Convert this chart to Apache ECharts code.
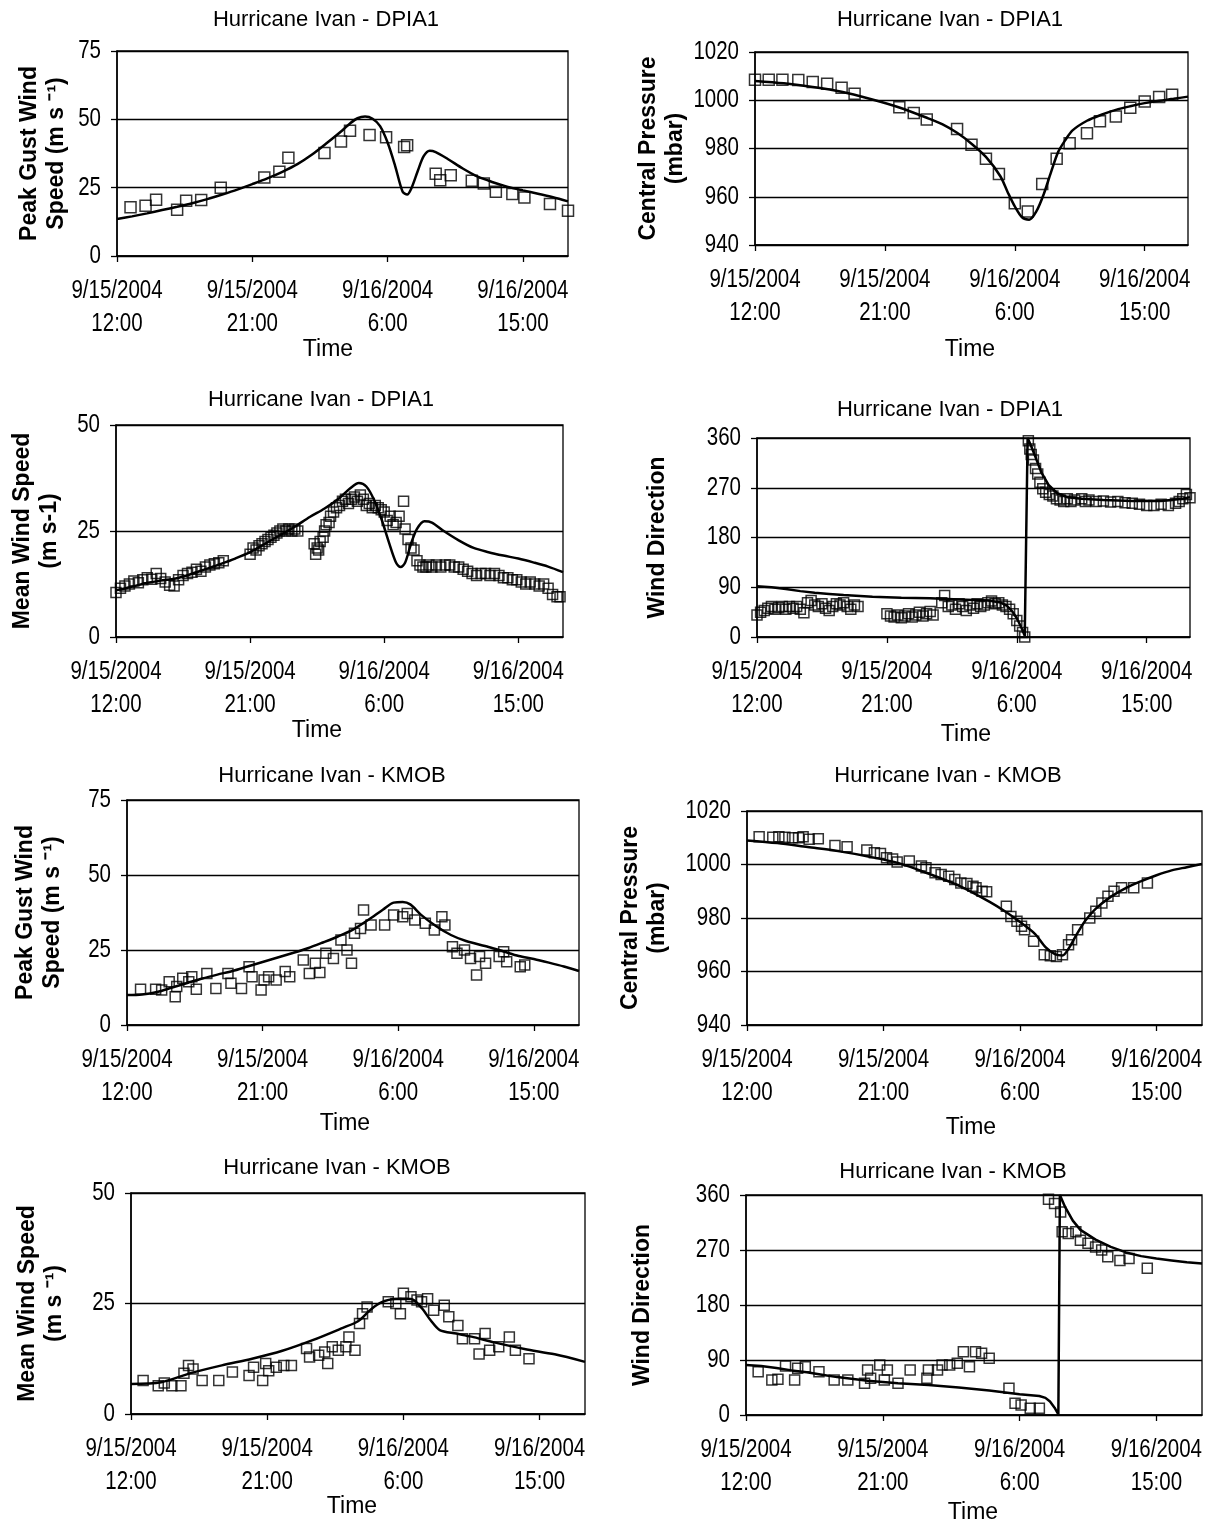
<!DOCTYPE html>
<html><head><meta charset="utf-8">
<script src="https://cdn.jsdelivr.net/npm/echarts/dist/echarts.min.js"></script>
<style>html,body{margin:0;padding:0;background:#fff}#c{width:1214px;height:1528px}</style>
</head><body><div id="c"></div>
<script>
// ---- tick labels (hours after 9/15/2004 12:00) ----
const xTickHours = [0, 9, 18, 27];
const xTickDates = ['9/15/2004', '9/15/2004', '9/16/2004', '9/16/2004'];
const xTickTimes = ['12:00', '21:00', '6:00', '15:00'];

// ---- DPIA1 peak gust ----
const p1Model = [[0,13.5],[1,14.5],[2,15.6],[3,16.8],[4,18],[5,19.3],[6,20.8],[7,22.5],[8,24.3],[9,26.3],[10,28.4],[11,30.8],[12,33.6],[13,37.2],[14,41.5],[15,46],[15.5,48.5],[16,50.4],[16.5,51],[17,50.2],[17.5,47.5],[18,41.5],[18.5,33],[19,23.5],[19.3,22.5],[19.6,25],[20,31],[20.4,36.5],[20.8,38.5],[21.2,38],[22,35.5],[23,32],[24,29],[25,27],[26,25.3],[27,24],[28,22.8],[29,21.5],[30,20]];
const p1Obs = [[0.9,17.8],[1.9,18.4],[2.6,20.6],[4.0,16.9],[4.6,20.2],[5.6,20.5],[6.9,25],[9.8,28.7],[10.8,30.8],[11.4,35.9],[13.8,37.7],[14.9,41.9],[15.5,45.8],[16.8,44.3],[17.9,43.4],[19.1,39.9],[19.3,40.5],[21.2,30.1],[21.5,27.7],[22.2,29.5],[23.6,27.5],[24.4,26.5],[25.2,23.5],[26.3,22.7],[27.1,21.4],[28.8,19],[30.0,16.6]];

// ---- DPIA1 central pressure ----
const p2Model = [[0,1008],[2,1007],[4,1005.5],[6,1003.5],[8,1000.5],[10,997],[12,992.5],[13,990],[14,986.5],[15,982],[16,976.5],[17,968.5],[17.5,962],[18,956],[18.5,951.5],[19,950.5],[19.5,954],[20,961],[20.5,970],[21,978.5],[21.5,983.5],[22,987.5],[23,991.5],[24,994],[25,996],[26,997.5],[27,998.8],[28,999.8],[29,1000.6],[30,1001.5]];
const p2Obs = [[0,1008.5],[0.95,1008.5],[1.9,1008.5],[3.0,1008.4],[4.0,1007.6],[5.0,1006.8],[6.0,1005.2],[6.9,1002.7],[10.0,997.1],[11.0,994.7],[11.9,992],[14.0,988.1],[15.0,981.6],[16.0,975.7],[16.9,969.4],[18.0,957.3],[18.9,953.9],[19.9,965.3],[20.9,975.7],[21.8,982.2],[23.0,986.3],[23.9,991.3],[25.0,993.3],[26.0,996.9],[27.0,999.5],[28.0,1001.3],[28.9,1002.3]];

// ---- DPIA1 mean wind speed ----
const p3Model = [[0,11],[1,11.8],[2,12.7],[3,13.3],[4,13.8],[5,14.8],[6,16],[7,17.2],[8,18.5],[9,20],[10,22],[11,24],[12,26],[13,28.3],[14,30.3],[15,32.8],[15.7,35],[16.3,36.3],[16.8,35.5],[17.3,32.5],[17.8,28],[18.3,22.5],[18.8,17.5],[19.1,16.5],[19.4,17.5],[19.8,22],[20.2,25.5],[20.7,27.3],[21.2,27],[22,25],[23,22.8],[24,21],[25,20],[26,19.2],[27,18.5],[28,17.6],[29,16.6],[30,15.3]];
const p3Obs = [[0,10.5],[0.3,11.5],[0.6,12],[0.9,12.5],[1.2,13.2],[1.5,12.8],[1.8,13.5],[2.1,14],[2.4,13.6],[2.7,15],[3,13.8],[3.3,13],[3.6,12.2],[3.9,12],[4.2,13.5],[4.5,14.5],[4.8,15],[5.1,15.3],[5.4,16],[5.7,15.5],[6,16.5],[6.3,17],[6.6,17.3],[6.9,17.5],[7.2,18],
[9,19.5],[9.2,21],[9.4,20.5],[9.6,21.5],[9.8,22],[10,22.5],[10.2,23],[10.4,23.5],[10.6,24],[10.8,24.5],[11,25],[11.2,25.5],[11.4,25],[11.6,25.5],[11.8,25],[12,25.5],[12.2,25],
[13.3,22],[13.4,19.5],[13.5,21],[13.6,20.5],[13.7,22.5],[13.9,23.5],[14,25],[14.1,26.5],[14.3,27],[14.4,28.5],[14.6,29.5],[14.8,30.5],[15,31],[15.2,32],[15.4,32.5],[15.6,31.5],[15.8,32.5],[16,33],[16.2,32],[16.4,33.5],[16.6,32.5],[16.8,31],[17,31.5],[17.2,30.5],[17.4,31],[17.6,30.5],[17.8,30],[18,29.5],[18.2,27.5],[18.4,28.5],[18.6,26.5],[18.8,27],[19,28.5],[19.3,32],[19.4,25.5],[19.6,23],[19.8,21],[20,20.5],[20.2,18],[20.4,17],[20.6,16.5],[20.8,16.5],[21,17],[21.2,16.5],[21.5,17],[21.8,16.5],[22.1,17],[22.4,17],[22.7,16.5],[23,16.5],[23.3,16],[23.6,15.5],[23.9,15],[24.2,14.5],[24.5,15],[24.8,15],[25.1,14.5],[25.4,15],[25.7,14.5],[26,14],[26.3,14],[26.6,13.5],[26.9,13.5],[27.2,13],[27.5,12.5],[27.8,13],[28.1,12.5],[28.4,12],[28.7,12.5],[29,11.5],[29.3,10],[29.6,9.5],[29.8,9.5]];

// ---- DPIA1 wind direction ----
const p4Model = [[0,92],[1,90],[2,87],[3,83],[4,80],[5,78],[6,76],[8,73],[10,71],[12,70],[14,68],[16,66],[16.8,63],[17.3,57],[17.7,46],[18,34],[18.3,18],[18.55,2],[18.75,360],[19,345],[19.3,325],[19.7,298],[20.2,275],[20.8,260],[21.5,253],[22.5,250],[24,248],[26,246],[28,246],[29.5,250],[30,253]];
const p4Obs = [[0,40],[0.25,45],[0.5,48],[0.75,52],[1,55],[1.25,50],[1.5,53],[1.75,55],[2,50],[2.25,55],[2.5,52],[2.75,55],[3,50],[3.25,44],[3.5,62],[3.75,66],[4,58],[4.25,55],[4.5,60],[4.75,52],[5,48],[5.25,55],[5.5,60],[5.75,58],[6,62],[6.25,55],[6.5,50],[6.75,58],[7,55],
[9,42],[9.25,38],[9.5,36],[9.75,40],[10,35],[10.25,38],[10.5,42],[10.75,36],[11,40],[11.25,45],[11.5,38],[11.75,42],[12,46],[12.2,40],
[12.8,62],[13,75],[13.25,55],[13.5,58],[13.75,50],[14,60],[14.25,55],[14.5,48],[14.75,58],[15,52],[15.25,60],[15.5,55],[15.75,58],[16,62],[16.25,65],[16.5,60],[16.75,62],[17,58],[17.25,55],
[17.5,50],[17.75,42],[18,30],[18.2,20],[18.4,8],[18.55,0],
[18.8,355],[18.9,340],[19,330],[19.15,320],[19.3,305],[19.45,295],[19.6,280],[19.8,268],[20,262],[20.25,258],[20.5,255],[20.75,250],[21,248],[21.25,245],[21.5,250],[21.75,245],[22,248],[22.5,250],[22.75,245],[23,248],[23.5,245],[24,246],[24.5,244],[25,245],[25.5,243],[26,242],[26.5,240],[27,238],[27.5,238],[28,240],[28.5,238],[29,242],[29.25,245],[29.5,250],[29.75,258],[30,252]];

// ---- KMOB peak gust ----
const p5Model = [[0,10],[1,10.2],[2,11],[3,12.5],[4,14],[5,15.5],[6,16.8],[7,18],[8,19.5],[9,21],[10,22.5],[11,24],[12,25.6],[13,27.5],[14,29.5],[15,31.8],[16,35],[17,38.5],[17.7,40.8],[18.3,41],[18.8,40.2],[19.5,36.8],[20.5,33],[21.5,30],[22.5,28],[24,26],[25,24.5],[26,23],[27,22],[28,20.8],[29,19.5],[30,18]];
const p5Obs = [[0.9,11.9],[1.9,11.9],[2.3,11.7],[2.8,14.4],[3.2,9.4],[3.3,12.8],[3.7,15.6],[4.1,14.4],[4.3,16.1],[4.6,11.9],[5.3,17.2],[5.9,12.2],[6.7,17.2],[6.9,13.9],[7.6,12.2],[8.1,19.4],[8.3,16.1],[8.9,11.7],[9.1,15],[9.4,16.1],[9.9,15],[10.5,17.8],[10.8,16.1],[11.7,21.7],[12.1,17.2],[12.5,20.6],[12.8,17.5],[13.2,23.9],[13.7,22.2],[14.2,28.3],[14.6,25],[14.9,20.6],[15.1,30.6],[15.5,32.2],[15.7,38.3],[16.2,33.3],[17.1,33.3],[17.7,36.7],[18.3,36.1],[18.6,37.2],[19.1,35],[19.8,33.9],[20.4,31.7],[20.9,36.1],[21.1,33.3],[21.6,26.1],[21.9,23.9],[22.4,25],[22.8,22.2],[23.2,16.7],[23.4,22.8],[23.8,20.6],[24.7,22.8],[25.0,24.4],[25.2,21.1],[26.1,19.4],[26.4,20]];

// ---- KMOB central pressure ----
const p6Model = [[0,1009],[2,1008],[4,1006.5],[6,1005],[8,1003],[10,1000.5],[12,996.5],[14,992],[16,986],[17,982.5],[18,978.5],[19,974],[19.7,969],[20.3,966.5],[20.8,966],[21.2,968.5],[21.7,973.5],[22.3,979],[23,983.5],[24,988],[25,991.3],[26,993.8],[27,996],[28,997.8],[29,999],[30,1000.2]];
const p6Obs = [[0.8,1010.4],[1.7,1010.2],[2.1,1010.4],[2.5,1010.2],[3.0,1010],[3.4,1010],[3.7,1010.4],[4.1,1009.4],[4.7,1009.6],[5.8,1007.1],[6.6,1006.6],[7.9,1005.4],[8.4,1004.4],[8.8,1004.1],[9.2,1002.5],[9.6,1002.1],[9.9,1000.9],[10.7,1001.3],[11.5,999.4],[11.8,998.8],[12.4,996.9],[12.8,996.3],[13.3,995.6],[13.7,994.4],[14.1,993.1],[14.5,992.9],[14.9,991.9],[15.1,991.3],[15.5,990],[15.8,989.8],[17.1,984.4],[17.4,980.6],[17.8,978.8],[18.1,976.9],[18.3,975.6],[18.9,971.3],[19.6,966.3],[20,965.9],[20.4,965.6],[20.8,966.3],[21.2,970],[21.4,971.9],[21.8,975.6],[22.6,980],[23,982.5],[23.4,985.6],[23.8,988.1],[24.2,990],[24.7,991.3],[25.5,991.3],[26.4,993.1]];

// ---- KMOB mean wind speed ----
const p7Model = [[0,6.8],[2,7.2],[4,9.3],[6,11],[8,12.5],[10,14.3],[12,16.7],[14,19.5],[15,21],[15.8,23.5],[16.5,25.2],[17.5,26],[18.5,26],[19.2,24],[19.8,21.2],[20.4,19],[21.5,18.2],[22.5,17.5],[24,16.2],[26,14.7],[28,13.5],[30,11.8]];
const p7Obs = [[0.8,7.6],[1.8,6.4],[2.2,7],[2.7,6.4],[3.3,6.4],[3.5,9.2],[3.8,11],[4.1,10.2],[4.7,7.6],[5.8,7.6],[6.7,9.5],[7.8,8.7],[8.1,10.6],[8.7,7.6],[8.9,11.4],[9.1,9.8],[9.6,10.6],[10.1,11],[10.6,11],[11.6,14.8],[11.8,12.9],[12.4,13.3],[12.8,14],[13,11.4],[13.3,15.2],[13.7,14.4],[14.2,15.2],[14.4,17.4],[14.8,14.4],[15.1,20.5],[15.3,22.7],[15.6,24.2],[17,25.4],[17.5,25],[17.8,22.7],[18,27.3],[18.5,26.5],[18.9,25.8],[19.2,25.4],[19.6,26.1],[20,23.5],[20.7,24.6],[21,22],[21.6,20],[21.9,17],[22.7,17],[23,13.6],[23.4,18.2],[23.7,14.4],[24.3,15.2],[25,17.4],[25.4,14.4],[26.3,12.5]];

// ---- KMOB wind direction ----
const p8Model = [[0,82],[1,80],[2,77],[3,73],[4,70],[5,66],[6,62],[8,56],[10,52],[12,49],[14,45],[16,40],[18,34],[19.3,31],[19.7,28],[20,22],[20.3,12],[20.55,1],[20.65,360],[21,340],[21.5,318],[22,303],[23,287],[24,275],[25,266],[26,260],[27,256],[28,253],[29,250],[30,248]];
const p8Obs = [[0.8,70.9],[1.7,57.3],[2.1,58.4],[2.6,80.2],[3.2,57.3],[3.4,76.4],[3.9,79.1],[4.8,70.9],[5.8,57.3],[6.7,57.3],[7.8,51.8],[8.0,73.6],[8.2,60],[8.8,81.8],[9.1,57.3],[9.3,73.6],[10,51.8],[10.8,73.6],[11.9,60],[12,73.6],[12.6,73.6],[12.9,81.8],[13.4,81.8],[13.9,84.5],[14.3,103.6],[14.7,79.1],[15.1,103.6],[15.5,100.9],[16,92.7],[17.3,43.6],[17.7,19.1],[18.1,16.4],[18.7,10.9],[19.3,10.9],[19.9,353],[20.3,346],[20.7,332],[20.8,300],[21.2,297],[21.7,300],[22,286],[22.5,281],[23,275],[23.4,270],[23.8,259],[24.6,253],[25.2,256],[26.4,240]];

// ---- narrow-font emulation: text in the "NarrowX" family is drawn with Liberation Sans compressed horizontally ----
(function () {
  const P = CanvasRenderingContext2D.prototype;
  const SX = 0.82;
  const oFill = P.fillText, oMeasure = P.measureText;
  P.fillText = function (t, x, y, mw) {
    if (this.font.indexOf('NarrowX') >= 0) {
      this.save(); this.translate(x, y); this.scale(SX, 1);
      oFill.call(this, t, 0, 0); this.restore(); return;
    }
    return oFill.apply(this, arguments);
  };
  P.measureText = function (t) {
    const m = oMeasure.call(this, t);
    if (this.font.indexOf('NarrowX') >= 0) {
      return {width: m.width * SX,
        actualBoundingBoxAscent: m.actualBoundingBoxAscent, actualBoundingBoxDescent: m.actualBoundingBoxDescent,
        actualBoundingBoxLeft: m.actualBoundingBoxLeft * SX, actualBoundingBoxRight: m.actualBoundingBoxRight * SX,
        fontBoundingBoxAscent: m.fontBoundingBoxAscent, fontBoundingBoxDescent: m.fontBoundingBoxDescent};
    }
    return m;
  };
})();

// ---- layout ----
const NARROW = "NarrowX,'Liberation Sans',Arial,sans-serif";
const SANS = "'Liberation Sans',Arial,sans-serif";
const panels = [
  {g:{left:117,top:51,width:451,height:205}, yMin:0,yMax:75,yInt:25, yName:'Peak Gust Wind\nSpeed (m s \u207B\u00B9)', gap:47, title:'Hurricane Ivan - DPIA1', tx:326, ty:20, timeX:328, timeY:350, model:p1Model, obs:p1Obs, smooth:0.3, sym:11},
  {g:{left:755,top:52,width:433,height:193}, yMin:940,yMax:1020,yInt:20, yName:'Central Pressure\n(mbar)', gap:36, title:'Hurricane Ivan - DPIA1', tx:950, ty:20, timeX:970, timeY:350, model:p2Model, obs:p2Obs, smooth:0.3, sym:11},
  {g:{left:116,top:425,width:447,height:212}, yMin:0,yMax:50,yInt:25, yName:'Mean Wind Speed\n(m s-1)', gap:53, title:'Hurricane Ivan - DPIA1', tx:321, ty:400, timeX:317, timeY:731, model:p3Model, obs:p3Obs, smooth:0.3, sym:10},
  {g:{left:757,top:438,width:433,height:199}, yMin:0,yMax:360,yInt:90, yName:'Wind Direction', gap:86, title:'Hurricane Ivan - DPIA1', tx:950, ty:410, timeX:966, timeY:735, model:p4Model, obs:p4Obs, smooth:false, sym:10},
  {g:{left:127,top:800,width:452,height:225}, yMin:0,yMax:75,yInt:25, yName:'Peak Gust Wind\nSpeed (m s \u207B\u00B9)', gap:61, title:'Hurricane Ivan - KMOB', tx:332, ty:776, timeX:345, timeY:1124, model:p5Model, obs:p5Obs, smooth:0.3, sym:10},
  {g:{left:747,top:811,width:455,height:214}, yMin:940,yMax:1020,yInt:20, yName:'Central Pressure\n(mbar)', gap:76, title:'Hurricane Ivan - KMOB', tx:948, ty:776, timeX:971, timeY:1128, model:p6Model, obs:p6Obs, smooth:0.3, sym:10},
  {g:{left:131,top:1193,width:454,height:221}, yMin:0,yMax:50,yInt:25, yName:'Mean Wind Speed\n(m s \u207B\u00B9)', gap:63, title:'Hurricane Ivan - KMOB', tx:337, ty:1168, timeX:352, timeY:1507, model:p7Model, obs:p7Obs, smooth:0.3, sym:10},
  {g:{left:746,top:1195,width:456,height:220}, yMin:0,yMax:360,yInt:90, yName:'Wind Direction', gap:90, title:'Hurricane Ivan - KMOB', tx:953, ty:1172, timeX:973, timeY:1513, model:p8Model, obs:p8Obs, smooth:false, sym:10}
];

const grid = [], xAxis = [], yAxis = [], series = [], graphic = [];
panels.forEach((p, i) => {
  grid.push(Object.assign({show:true, borderColor:'#000', borderWidth:1.3, backgroundColor:'transparent', containLabel:false}, p.g));
  xAxis.push({
    type:'value', gridIndex:i, min:0, max:30, interval:9,
    axisLine:{show:true, onZero:false, lineStyle:{color:'#000', width:1.5}},
    axisTick:{show:true, length:6, lineStyle:{color:'#000', width:1.3}},
    splitLine:{show:false},
    axisLabel:{
      margin:19, fontFamily:NARROW, fontSize:25, lineHeight:33, color:'#000', showMaxLabel:false,
      formatter: v => { const k = xTickHours.indexOf(v); return k < 0 ? '' : xTickDates[k] + '\n' + xTickTimes[k]; }
    }
  });
  yAxis.push({
    type:'value', gridIndex:i, min:p.yMin, max:p.yMax, interval:p.yInt,
    name:p.yName, nameLocation:'middle', nameRotate:90, nameGap:p.gap,
    nameTextStyle:{fontFamily:SANS, fontWeight:'bold', fontSize:23, lineHeight:27, color:'#000'},
    axisLine:{show:true, lineStyle:{color:'#000', width:1.5}},
    axisTick:{show:true, length:6, lineStyle:{color:'#000', width:1.3}},
    splitLine:{show:true, lineStyle:{color:'#000', width:1.3}},
    axisLabel:{margin:16, fontFamily:NARROW, fontSize:25, color:'#000', formatter: v => String(v)}
  });
  series.push({
    type:'line', xAxisIndex:i, yAxisIndex:i, data:p.model, showSymbol:false, symbol:'none',
    smooth:p.smooth, lineStyle:{color:'#000', width:2.5}, z:3, silent:true, animation:false
  });
  series.push({
    type:'scatter', xAxisIndex:i, yAxisIndex:i, data:p.obs, symbol:'rect', symbolSize:p.sym,
    itemStyle:{color:'transparent', borderColor:'#000', borderWidth:1.5}, z:4, silent:true, animation:false
  });
  graphic.push({type:'text', x:p.tx, y:p.ty, style:{text:p.title, font:'22px ' + SANS, fill:'#000', textAlign:'center', textVerticalAlign:'middle'}});
  graphic.push({type:'text', x:p.timeX, y:p.timeY, style:{text:'Time', font:'23px ' + SANS, fill:'#000', textAlign:'center', textVerticalAlign:'middle'}});
});

const chart = echarts.init(document.getElementById('c'), null, {renderer:'canvas'});
chart.setOption({animation:false, backgroundColor:'#fff', grid, xAxis, yAxis, series, graphic});
</script></body></html>
